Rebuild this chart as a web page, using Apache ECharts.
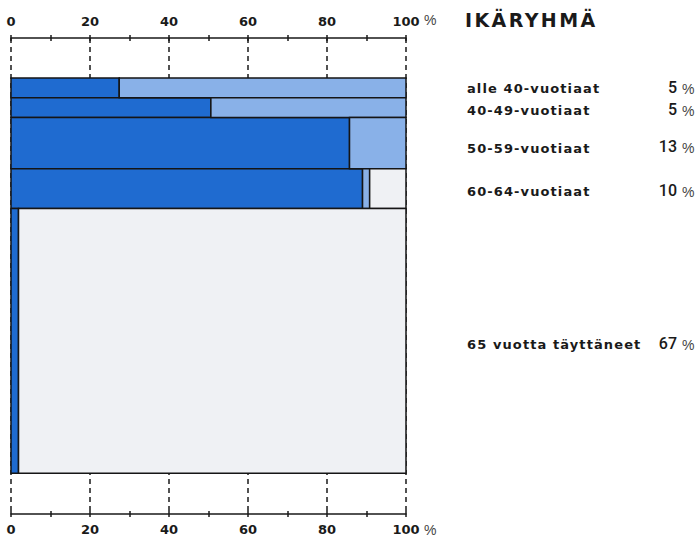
<!DOCTYPE html>
<html>
<head>
<meta charset="utf-8">
<script src="https://cdn.jsdelivr.net/npm/echarts@6/dist/echarts.min.js"></script>
<style>
  html, body { margin: 0; padding: 0; background: #ffffff; }
  #chart { width: 698px; height: 541px; }
  #chart text[style*="19px"] { letter-spacing: 2.4px; }
  #chart text[style*="sans-serif"] { letter-spacing: 1.1px; }
</style>
</head>
<body>
<div id="chart"></div>
<script>
// ---- data ----
const groups = ['alle 40-vuotiaat', '40-49-vuotiaat', '50-59-vuotiaat', '60-64-vuotiaat', '65 vuotta täyttäneet'];
const groupShare = [5, 5, 13, 10, 67];          // % of total (bar height)
const segDark  = [27.4, 50.6, 85.7, 89.0, 1.9];  // first segment (%)
const segLight = [72.6, 49.4, 14.3, 1.8, 0];     // second segment (%)
const segPale  = [0, 0, 0, 9.2, 98.1];           // remaining segment (%)
const xTicks = [0, 20, 40, 60, 80, 100];
const titleText = 'IKÄRYHMÄ';

// ---- build rectangles from the arrays ----
const segArrays = [segDark, segLight, segPale];
const segColors = ['#1f6bd0', '#89b1e8', '#eff1f4'];
const segNames = ['Osuus 1', 'Osuus 2', 'Osuus 3'];
const cumStart = [];
let acc = 0;
groupShare.forEach(s => { cumStart.push(acc); acc += s; });

function segData(k) {
  const out = [];
  groups.forEach((g, i) => {
    let x0 = 0;
    for (let j = 0; j < k; j++) x0 += segArrays[j][i];
    const x1 = x0 + segArrays[k][i];
    if (segArrays[k][i] > 0) out.push([x0, x1, cumStart[i], cumStart[i] + groupShare[i], i]);
  });
  return out;
}

function makeRender(color) {
  return function (params, api) {
    const p0 = api.coord([api.value(0), api.value(2)]);
    const p1 = api.coord([api.value(1), api.value(3)]);
    return {
      type: 'rect',
      shape: { x: p0[0], y: p0[1], width: p1[0] - p0[0], height: p1[1] - p0[1] },
      style: { fill: color, stroke: '#151515', lineWidth: 1.5 }
    };
  };
}

const labelOffsets = [1, 3, 5, 3, 4];
const labelData = groups.map((g, i) => [0, cumStart[i] + groupShare[i] / 2, i]);

function renderLabel(params, api) {
  const i = api.value(2);
  const y = api.coord([0, api.value(1)])[1] + labelOffsets[i];
  return {
    type: 'group',
    children: [
      { type: 'text', x: 467, y: y, style: { text: groups[i], fill: '#1a1a1a', font: 'bold 13px "DejaVu Sans", sans-serif', verticalAlign: 'middle', align: 'left' } },
      { type: 'text', x: 677, y: y - 1.5, style: { text: String(groupShare[i]), fill: '#1a1a1a', font: '500 16px Roboto', verticalAlign: 'middle', align: 'right' } },
      { type: 'text', x: 682, y: y, style: { text: '%', fill: '#444', font: '14px "Liberation Sans"', verticalAlign: 'middle', align: 'left' } }
    ]
  };
}

const chart = echarts.init(document.getElementById('chart'), null, { renderer: 'svg' });

const labelStyle = { color: '#1a1a1a', fontFamily: 'DejaVu Sans', fontWeight: 'bold', fontSize: 13 };

function mainAxis(pos, withSplit) {
  return {
    type: 'value', position: pos, min: 0, max: 100, interval: 20,
    axisLine: { show: true, onZero: false, lineStyle: { color: '#1a1a1a', width: 1.5 } },
    axisTick: { show: true, length: 3, lineStyle: { color: '#1a1a1a', width: 1.5 } },
    minorTick: { show: true, splitNumber: 2, length: 3, lineStyle: { color: '#1a1a1a', width: 1.5 } },
    axisLabel: Object.assign({ margin: pos === 'top' ? 10 : 9, formatter: v => xTicks.indexOf(v) >= 0 ? String(v) : '' }, labelStyle),
    splitLine: { show: withSplit, lineStyle: { color: '#1a1a1a', width: 1.5, type: [5, 4] } }
  };
}
function innerAxis(pos) {
  return {
    type: 'value', position: pos, min: 0, max: 100, interval: 10,
    axisLine: { show: false, onZero: false },
    axisTick: { show: true, inside: true, length: 3, lineStyle: { color: '#1a1a1a', width: 1.5 } },
    axisLabel: { show: false },
    splitLine: { show: false }
  };
}

chart.setOption({
  backgroundColor: '#ffffff',
  animation: false,
  title: {
    text: titleText, left: 465, top: 10, padding: 0,
    textStyle: { fontFamily: 'DejaVu Sans', fontWeight: 'bold', fontSize: 19, color: '#1a1a1a' }
  },
  grid: { left: 11, right: 292, top: 38, bottom: 27 },
  xAxis: [mainAxis('top', true), innerAxis('top'), mainAxis('bottom', false), innerAxis('bottom')],
  yAxis: { type: 'value', inverse: true, min: -10.1, max: 110.3, show: false },
  graphic: [
    { type: 'text', left: 424, top: 13, style: { text: '%', fill: '#444', font: '14px "Liberation Sans"' } },
    { type: 'text', left: 424, top: 523, style: { text: '%', fill: '#444', font: '14px "Liberation Sans"' } }
  ],
  series: [0, 1, 2].map(k => ({
    type: 'custom', name: segNames[k], xAxisIndex: 0, yAxisIndex: 0,
    renderItem: makeRender(segColors[k]),
    encode: { x: [0, 1], y: [2, 3] },
    data: segData(k)
  })).concat([{
    type: 'custom', name: 'labels', xAxisIndex: 0, yAxisIndex: 0, clip: false,
    renderItem: renderLabel,
    encode: { x: 0, y: 1 },
    data: labelData
  }])
});
</script>
</body>
</html>
